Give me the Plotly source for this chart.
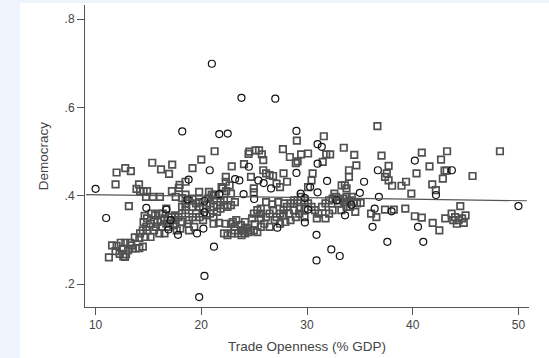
import plotly.graph_objects as go

# Squares (hollow, dark gray)
sq_x = [11.89,11.99,12.81,13.34,13.15,13.87,14.11,14.21,14.54,14.87,15.36,14.77,15.43,16.09,16.19,16.95,17.25,17.22,17.88,17.95,18.51,19.17,20.0,21.26,19.80,20.99,21.16,22.88,22.32,22.32,21.92,22.68,24.04,24.54,24.47,25.13,25.46,25.73,25.86,24.70,24.97,24.97,25.86,26.13,26.46,26.79,27.12,27.45,27.78,28.11,27.72,28.38,28.94,29.11,29.04,29.44,30.10,30.53,30.43,30.10,31.59,31.49,31.82,32.19,33.48,34.47,34.67,33.97,33.97,33.28,33.58,33.74,36.66,37.05,37.72,37.55,37.38,37.72,38.05,38.94,39.37,39.87,40.86,40.36,41.59,41.85,42.19,42.68,43.25,43.01,43.21,42.85,45.66,48.25,
        35.07,36.06,36.56,37.38,38.21,39.30,40.20,40.86,41.89,42.52,43.08,43.68,44.01,44.34,44.67,45.0,44.50,44.17,44.83,43.84,
        23.48,23.81,24.14,24.47,23.97,23.74,24.14,24.64,24.97,25.30,23.15,22.98,23.31,24.80,25.63,25.63,26.13,26.46,26.79,26.95,27.45,27.78,28.11,28.44,28.77,29.11,29.44,29.77,30.10,30.43,30.76,31.09,31.42,31.75,32.09,32.42,32.75,33.08,33.41,33.74,34.07,34.40,33.74,33.25,32.42,32.09,31.75,30.93,29.77,29.27,28.94,28.44,27.95,27.45,27.12,27.78,28.28,28.77,29.30,29.77,28.77,27.85,27.28,26.72,26.13,25.63,25.30,24.97,25.96,26.46,25.63,25.07,24.30,23.81,22.88,22.48,22.15,
        34.07,34.24,33.58,32.92,32.59,34.73,34.57,
        14.21,14.47,14.80,15.20,15.53,15.86,16.19,16.52,16.85,17.19,17.52,17.85,18.18,18.51,18.84,19.17,19.50,19.83,20.17,20.50,20.83,21.16,21.49,21.82,22.15,22.48,22.81,15.53,16.03,16.52,16.85,17.35,17.68,15.20,14.70,14.87,15.70,16.26,16.69,17.02,17.52,18.18,18.51,18.84,19.17,19.50,19.83,20.17,20.50,20.83,21.16,21.49,21.82,22.15,20.66,19.83,19.11,18.18,18.68,19.34,18.01,18.84,21.16,21.66,22.32,22.81,23.15,
        11.26,11.56,11.99,12.38,12.81,13.28,13.71,14.14,11.89,12.28,12.62,12.88,13.08,13.48,13.81,14.14,14.47,13.38,12.62,12.78,
        14.87,14.54,15.30,15.63,16.03,16.36,14.64,16.69,
        20.73,17.58,18.18,18.51,18.58,21.36,22.02,22.35,22.81,23.18]
sq_y = [0.426,0.453,0.463,0.456,0.377,0.416,0.426,0.411,0.411,0.411,0.475,0.398,0.398,0.398,0.460,0.450,0.471,0.411,0.418,0.425,0.432,0.463,0.482,0.501,0.409,0.403,0.401,0.467,0.443,0.432,0.420,0.424,0.472,0.500,0.495,0.503,0.503,0.494,0.481,0.443,0.417,0.408,0.458,0.451,0.447,0.445,0.428,0.420,0.451,0.432,0.506,0.488,0.474,0.478,0.525,0.494,0.496,0.451,0.435,0.420,0.535,0.477,0.494,0.494,0.509,0.493,0.469,0.458,0.443,0.424,0.424,0.417,0.558,0.491,0.468,0.451,0.443,0.435,0.423,0.423,0.432,0.405,0.498,0.451,0.467,0.426,0.413,0.482,0.501,0.457,0.457,0.439,0.445,0.501,
        0.384,0.360,0.352,0.369,0.369,0.371,0.354,0.351,0.339,0.322,0.349,0.360,0.352,0.345,0.349,0.356,0.377,0.337,0.339,0.345,
        0.315,0.311,0.315,0.318,0.322,0.334,0.341,0.322,0.322,0.318,0.330,0.341,0.345,0.349,0.349,0.360,0.352,0.360,0.368,0.345,0.360,0.368,0.375,0.383,0.390,0.390,0.398,0.390,0.383,0.375,0.368,0.360,0.375,0.383,0.390,0.394,0.398,0.390,0.394,0.398,0.390,0.386,0.375,0.368,0.368,0.360,0.349,0.349,0.352,0.360,0.352,0.345,0.341,0.337,0.352,0.356,0.360,0.368,0.371,0.371,0.383,0.383,0.386,0.381,0.386,0.371,0.368,0.360,0.337,0.330,0.330,0.336,0.328,0.322,0.315,0.311,0.315,
        0.375,0.398,0.386,0.383,0.405,0.383,0.364,
        0.315,0.322,0.330,0.337,0.345,0.341,0.345,0.349,0.345,0.352,0.356,0.352,0.360,0.368,0.345,0.352,0.360,0.352,0.345,0.356,0.360,0.352,0.364,0.371,0.379,0.375,0.379,0.322,0.315,0.315,0.330,0.334,0.322,0.307,0.307,0.322,0.330,0.330,0.337,0.337,0.345,0.375,0.383,0.390,0.394,0.383,0.375,0.371,0.379,0.383,0.375,0.379,0.386,0.390,0.394,0.386,0.375,0.341,0.337,0.330,0.326,0.322,0.337,0.339,0.337,0.337,0.322,
        0.261,0.288,0.287,0.294,0.294,0.294,0.306,0.305,0.275,0.269,0.263,0.268,0.277,0.281,0.281,0.282,0.285,0.288,0.281,0.262,
        0.349,0.341,0.360,0.356,0.360,0.360,0.355,0.371,
        0.409,0.398,0.395,0.403,0.375,0.403,0.417,0.411,0.405,0.386]

# Circles (hollow, black)
ci_x = [10.0,11.0,21.0,23.8,27.0,18.2,21.7,22.5,29.0,29.0,20.8,31.0,31.4,31.0,36.7,40.2,43.7,42.2,36.8,50.0,36.2,37.6,40.5,41.0,30.9,30.9,32.3,33.1,21.2,20.3,19.8,19.6,20.2,23.2,23.6,18.8,18.7,20.3,20.3,16.7,16.9,17.8,14.8,21.7,24.0,25.0,25.4,25.9,24.5,26.6,27.2,29.4,29.8,30.1,30.3,29.8,31.9,31.0,33.6,32.8,35.0,35.4,36.4,17.1,38.0,34.2]
ci_y = [0.416,0.350,0.699,0.622,0.620,0.546,0.540,0.541,0.547,0.452,0.458,0.517,0.511,0.473,0.458,0.480,0.458,0.402,0.398,0.377,0.330,0.296,0.330,0.296,0.312,0.254,0.279,0.264,0.285,0.219,0.171,0.315,0.326,0.438,0.435,0.437,0.392,0.389,0.363,0.369,0.324,0.312,0.373,0.404,0.404,0.393,0.435,0.429,0.466,0.417,0.328,0.405,0.395,0.369,0.420,0.340,0.434,0.408,0.356,0.390,0.407,0.432,0.371,0.345,0.365,0.380]

# Fitted line
fit_x = [9.1, 50.8]
fit_y = [0.403, 0.389]

x_ticks = [10, 20, 30, 40, 50]
y_ticks = [0.2, 0.4, 0.6, 0.8]
y_tick_labels = [".2", ".4", ".6", ".8"]

fig = go.Figure()
fig.add_trace(go.Scatter(x=sq_x, y=sq_y, mode="markers",
    marker=dict(symbol="square-open", size=6.5, color="#505050", line=dict(width=1.7)),
    showlegend=False, hoverinfo="skip"))
fig.add_trace(go.Scatter(x=ci_x, y=ci_y, mode="markers",
    marker=dict(symbol="circle-open", size=7, color="#111111", line=dict(width=1.2)),
    showlegend=False, hoverinfo="skip"))
fig.add_trace(go.Scatter(x=fit_x, y=fit_y, mode="lines",
    line=dict(color="#555555", width=1.2), showlegend=False, hoverinfo="skip"))

W, H = 549, 358
L, R, T, B = 85, 20, 5, 51
pw, ph = W - L - R, H - T - B
fig.add_shape(type="rect", xref="paper", yref="paper", layer="below",
    x0=(20 - L) / pw, x1=(W - L) / pw + 0.01,
    y0=-(B + 2) / ph, y1=(ph + T - 3) / ph,
    fillcolor="white", line=dict(width=0))

tick_font = dict(family="Liberation Sans, Arial, sans-serif", size=12, color="#444444")
title_font = dict(family="Liberation Sans, Arial, sans-serif", size=13.5, color="#444444")
fig.update_layout(
    width=W, height=H,
    margin=dict(l=L, r=R, t=T, b=B),
    paper_bgcolor="#EEF4FC", plot_bgcolor="white",
    font=tick_font,
    xaxis=dict(range=[9.0, 51.0], tickvals=x_ticks, ticks="outside", ticklen=7,
               tickcolor="#555555", showline=True, linecolor="#555555", linewidth=1,
               showgrid=False, zeroline=False, tickfont=tick_font, automargin=False,
               title=dict(text="Trade Openness (% GDP)", font=title_font, standoff=10)),
    yaxis=dict(range=[0.1486, 0.832], tickvals=y_ticks, ticktext=y_tick_labels,
               ticks="outside", ticklen=7, tickcolor="#555555", showline=True,
               linecolor="#555555", linewidth=1, showgrid=False, zeroline=False,
               tickfont=tick_font, automargin=False,
               title=dict(text="Democracy", font=title_font, standoff=12)),
)
fig.write_html("out.html", config={"displayModeBar": False},
               post_script="document.body.style.margin='0';document.body.style.overflow='hidden';")
